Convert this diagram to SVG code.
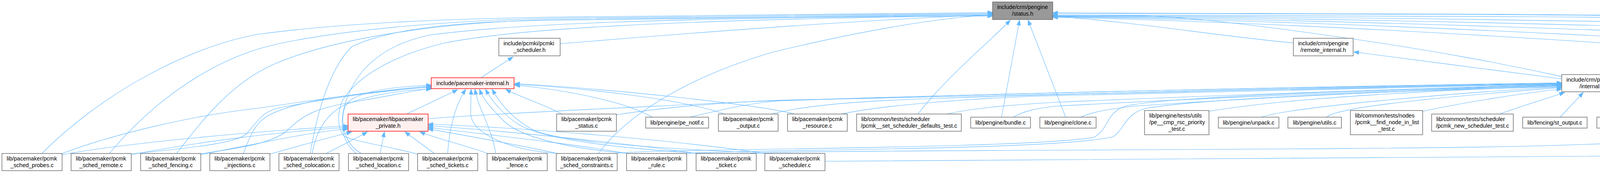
<svg xmlns="http://www.w3.org/2000/svg" width="7872" height="443" viewBox="0 0 7872 443">
<defs>
<marker id="ah" viewBox="0 0 14 11" markerWidth="14" markerHeight="11" refX="13" refY="5.5" orient="auto" markerUnits="userSpaceOnUse"><path d="M0,0.5 L13.5,5.5 L0,10.5 Z" fill="#63B8FF" stroke="#63B8FF" stroke-width="1"/></marker>
</defs>
<style>
.n rect{fill:#ffffff;stroke:#666666;stroke-width:1.4}
.r rect{fill:#FFF0F0;stroke:#FF0000;stroke-width:1.4}
.root rect{fill:#999999;stroke:#666666;stroke-width:1.4}
text{font-family:"Liberation Sans",Arial,Helvetica,sans-serif;font-size:14.5px;fill:#000000}
.m{text-anchor:middle}
#edges path{fill:none;stroke:#63B8FF;stroke-width:1.1;marker-end:url(#ah)}
</style>
<rect x="0" y="0" width="7872" height="443" fill="#ffffff"/>
<g id="edges">
<path d="M1434,112 C1700,90 2200,50 2541,38"/>
<path d="M1231,199 L1313,146"/>
<path d="M3311,110 C3100,90 2900,55 2695,42"/>
<path d="M3998,196 C3900,175 3700,130 3300,77 S2900,45 2695,40"/>
<path d="M3998,202 C3900,190 3600,150 3466,133"/>
<path d="M7523,106 C7480,95 7400,87 7212,82 S6600,63 5940,53 S3800,36 2695,34"/>
<path d="M7717,106 C7650,95 7500,84 7212,77 S6600,62 5940,52 S3800,35 2695,33"/>
<path d="M2112,413 C3500,410 6000,385 7212,362 C7330,356 7420,352 7431,347 C7460,310 7485,290 7477,262 C7465,228 7380,205 7212,198 C6950,195 6750,195 6600,172 C6200,115 4800,48 3960,43 L2695,38"/>
<path d="M7256,292 C7050,240 6800,208 6600,197 S5700,110 5280,88 S3800,45 2695,40"/>
<path d="M7057,292 C6900,250 6750,228 6600,218 S5700,135 5280,110 S3800,50 2695,41"/>
<path d="M6886,300 C6800,265 6700,250 6600,245 S5700,158 5280,133 S3800,55 2695,42"/>
<path d="M6706,300 C6680,280 6650,270 6600,267 S5700,188 5280,163 S3800,60 2695,43"/>
<path d="M6533,300 C6500,265 6460,250 6445,247 S5700,215 5280,192 S3800,70 2695,44"/>
<path d="M107,393 C260,240 480,120 660,88 C900,55 1200,48 1400,44 L2541,32"/>
<path d="M280,393 C400,250 550,150 700,115 C900,70 1200,52 1400,47 L2541,34"/>
<path d="M452,393 C530,290 600,210 700,165 C850,100 1100,60 1400,50 L2541,36"/>
<path d="M794,393 C810,300 840,180 900,120 C1000,70 1200,55 1400,52 L2541,38"/>
<path d="M912,393 C870,360 865,300 896,233 C930,160 1000,110 1100,90 C1300,62 1700,45 2541,41"/>
<path d="M1069,395 C1000,375 900,362 879,347 C860,320 865,270 885,245 C930,185 1020,140 1130,112 C1300,75 1700,50 2541,40"/>
<path d="M1532,393 C1600,300 1750,200 1980,133 C2200,80 2400,45 2541,38"/>
<path d="M2350,292 C2420,200 2530,110 2586,52"/>
<path d="M2564,300 L2610,52"/>
<path d="M2728,300 L2632,52"/>
<path d="M1041,292 L1171,230"/>
<path d="M159,393 C300,340 500,295 660,277 C850,250 1000,228 1104,220"/>
<path d="M337,394 C450,382 600,370 631,343 C660,310 670,285 720,275 C850,250 1000,230 1104,223"/>
<path d="M513,394 C600,380 700,370 740,330 C780,290 820,275 900,262 C1000,245 1060,232 1104,226"/>
<path d="M623,393 C640,350 650,320 680,300 C750,255 950,235 1104,222"/>
<path d="M799,393 C810,330 840,290 880,270 C950,240 1040,230 1104,228"/>
<path d="M925,393 C875,365 870,300 885,270 C905,235 1000,222 1104,218"/>
<path d="M1146,393 C1150,330 1165,270 1192,229"/>
<path d="M1269,393 C1260,330 1225,280 1216,229"/>
<path d="M1430,393 C1300,385 1205,340 1205,290 C1205,260 1206,245 1206,229"/>
<path d="M1610,393 C1450,380 1330,350 1290,310 C1250,270 1235,250 1228,229"/>
<path d="M1790,393 C1600,380 1400,360 1330,320 C1290,295 1260,260 1243,229"/>
<path d="M1965,393 C1700,380 1420,365 1360,330 C1300,295 1275,255 1260,229"/>
<path d="M1438,292 C1400,270 1330,248 1295,229"/>
<path d="M1670,300 C1600,260 1450,230 1318,218"/>
<path d="M1855,292 C1750,255 1500,225 1318,216"/>
<path d="M2035,292 C1950,270 1600,230 1318,214"/>
<path d="M159,396 C300,370 600,340 891,322"/>
<path d="M337,396 C500,365 700,338 891,326"/>
<path d="M513,396 C650,370 780,340 891,330"/>
<path d="M690,395 C760,375 850,350 900,338"/>
<path d="M835,393 C870,375 910,355 940,338"/>
<path d="M973,393 L984,338"/>
<path d="M1112,393 L1037,338"/>
<path d="M1249,393 C1200,375 1120,355 1075,338"/>
<path d="M1426,393 C1350,375 1180,345 1096,330"/>
<path d="M1606,393 C1450,365 1200,340 1096,326"/>
<path d="M1784,393 C1550,360 1250,332 1096,322"/>
<path d="M1960,393 C1700,355 1300,325 1096,318"/>
<path d="M1096,304 C1300,288 1700,272 1980,257 C2800,235 3500,222 3998,214"/>
<path d="M1578,294 C1700,275 1850,262 1980,258 C2700,235 3500,220 3998,212"/>
<path d="M1766,300 C1850,280 1930,262 2000,258 C2800,232 3500,220 3998,213"/>
<path d="M1972,293 C2050,270 2200,258 2400,252 C3000,232 3600,220 3998,214"/>
<path d="M2150,293 C2250,270 2500,250 2700,245 C3200,232 3700,220 3998,215"/>
<path d="M2424,292 C2500,275 2600,268 2700,262 C3200,240 3700,225 3998,216"/>
<path d="M2594,300 C2620,285 2650,278 2700,272 C3200,245 3700,227 3998,217"/>
<path d="M2766,300 C2800,285 2840,280 2900,272 C3300,245 3700,228 3998,219"/>
<path d="M3095,285 C3300,250 3700,230 3998,220"/>
<path d="M3229,300 C3300,275 3700,240 3998,222"/>
<path d="M3397,300 C3420,270 3800,240 3998,224"/>
<path d="M3643,285 C3750,262 3900,238 3998,228"/>
<path d="M3839,292 C3900,270 3960,252 4005,237"/>
<path d="M3994,300 L4053,237"/>
<path d="M4158,300 L4103,237"/>
<path d="M4324,300 C4270,280 4200,260 4152,236"/>
<path d="M4568,300 C4500,280 4300,240 4154,226"/>
<path d="M4774,300 C4700,275 4400,235 4154,223"/>
<path d="M4970,300 C4900,275 4500,232 4154,221"/>
<path d="M5163,300 C5080,275 4600,230 4154,220"/>
<path d="M5339,300 C5250,280 4700,228 4154,219"/>
<path d="M5509,300 C5420,275 4800,226 4154,218"/>
<path d="M5654,292 C5550,270 4900,225 4154,218"/>
<path d="M5863,292 C5750,268 5000,224 4154,217"/>
<path d="M6066,292 C5950,268 5100,224 4154,217"/>
<path d="M6289,292 C6150,268 5200,222 4154,216"/>
<path d="M6535,300 C6400,270 5300,222 4154,216"/>
<path d="M6706,300 C6550,270 5400,222 4154,215"/>
<path d="M6886,300 C6700,270 5500,222 4154,215"/>
<path d="M7057,292 C6850,262 5600,222 4154,214"/>
<path d="M7256,292 C7000,260 5700,220 4154,214"/>
<path d="M1578,393 C1650,380 2600,383 2800,352 C2840,330 2830,290 2880,272 C3000,245 3600,228 3998,218"/>
<path d="M1757,393 C1900,382 2700,386 2850,350 C2880,330 2880,290 2935,277 C3100,250 3600,232 3998,222"/>
<path d="M1920,393 C1980,383 3500,386 3960,373 C4200,366 4440,352 4459,347 C4478,330 4485,315 4480,305 C4475,285 4465,276 4440,270 C4350,245 4250,230 4154,222"/>
</g>
<g id="node-status-h" class="root"><rect x="2541" y="5" width="154" height="45"/><text x="2553" y="23">include/crm/pengine</text><text class="m" x="2618" y="40">/status.h</text></g>
<g id="node-pcmki-scheduler-h" class="n"><rect x="1277" y="98" width="157" height="45"/><text x="1289" y="116">include/pcmki/pcmki</text><text class="m" x="1355.5" y="133">_scheduler.h</text></g>
<g id="node-remote-internal-h" class="n"><rect x="3311" y="98" width="153" height="45"/><text x="3323" y="116">include/crm/pengine</text><text class="m" x="3387.5" y="133">/remote_internal.h</text></g>
<g id="node-lrmd-alerts" class="n"><rect x="7495" y="106" width="161" height="28"/><text class="m" x="7575.5" y="125">lib/lrmd/lrmd_alerts.c</text></g>
<g id="node-proxy-common" class="n"><rect x="7679" y="106" width="187" height="28"/><text class="m" x="7772.5" y="125">lib/lrmd/proxy_common.c</text></g>
<g id="node-pacemaker-internal-h" class="r"><rect x="1104" y="199" width="212" height="28"/><text class="m" x="1210" y="218">include/pacemaker-internal.h</text></g>
<g id="node-pengine-internal-h" class="n"><rect x="3998" y="191" width="154" height="44"/><text x="4010" y="209">include/crm/pengine</text><text class="m" x="4075" y="226">/internal.h</text></g>
<g id="node-libpacemaker-private-h" class="r"><rect x="891" y="292" width="205" height="44"/><text x="903" y="310">lib/pacemaker/libpacemaker</text><text class="m" x="993.5" y="327">_private.h</text></g>
<g id="node-pcmk-status" class="n"><rect x="1425" y="292" width="153" height="44"/><text x="1437" y="310">lib/pacemaker/pcmk</text><text class="m" x="1501.5" y="327">_status.c</text></g>
<g id="node-pe-notif" class="n"><rect x="1653" y="300" width="161" height="28"/><text class="m" x="1733.5" y="319">lib/pengine/pe_notif.c</text></g>
<g id="node-pcmk-output" class="n"><rect x="1839" y="292" width="153" height="44"/><text x="1851" y="310">lib/pacemaker/pcmk</text><text class="m" x="1915.5" y="327">_output.c</text></g>
<g id="node-pcmk-resource" class="n"><rect x="2016" y="292" width="153" height="44"/><text x="2028" y="310">lib/pacemaker/pcmk</text><text class="m" x="2092.5" y="327">_resource.c</text></g>
<g id="node-set-scheduler-defaults-test" class="n"><rect x="2193" y="292" width="268" height="44"/><text x="2205" y="310">lib/common/tests/scheduler</text><text class="m" x="2327" y="327">/pcmk__set_scheduler_defaults_test.c</text></g>
<g id="node-bundle" class="n"><rect x="2485" y="300" width="153" height="28"/><text class="m" x="2561.5" y="319">lib/pengine/bundle.c</text></g>
<g id="node-clone" class="n"><rect x="2662" y="300" width="144" height="28"/><text class="m" x="2734" y="319">lib/pengine/clone.c</text></g>
<g id="node-cmp-rsc-priority-test" class="n"><rect x="2930" y="283" width="165" height="62"/><text x="2942" y="301">lib/pengine/tests/utils</text><text x="2942" y="318">/pe__cmp_rsc_priority</text><text class="m" x="3012.5" y="335">_test.c</text></g>
<g id="node-unpack" class="n"><rect x="3119" y="300" width="155" height="28"/><text class="m" x="3196.5" y="319">lib/pengine/unpack.c</text></g>
<g id="node-utils" class="n"><rect x="3297" y="300" width="137" height="28"/><text class="m" x="3365.5" y="319">lib/pengine/utils.c</text></g>
<g id="node-find-node-in-list-test" class="n"><rect x="3457" y="283" width="185" height="62"/><text x="3469" y="301">lib/common/tests/nodes</text><text x="3469" y="318">/pcmk__find_node_in_list</text><text class="m" x="3549.5" y="335">_test.c</text></g>
<g id="node-new-scheduler-test" class="n"><rect x="3665" y="292" width="209" height="44"/><text x="3677" y="310">lib/common/tests/scheduler</text><text class="m" x="3769.5" y="327">/pcmk_new_scheduler_test.c</text></g>
<g id="node-st-output" class="n"><rect x="3898" y="300" width="165" height="28"/><text class="m" x="3980.5" y="319">lib/fencing/st_output.c</text></g>
<g id="node-complex" class="n"><rect x="4088" y="300" width="164" height="28"/><text class="m" x="4170" y="319">lib/pengine/complex.c</text></g>
<g id="node-failcounts" class="n"><rect x="4275" y="300" width="173" height="28"/><text class="m" x="4361.5" y="319">lib/pengine/failcounts.c</text></g>
<g id="node-pe-actions" class="n"><rect x="4523" y="300" width="179" height="28"/><text class="m" x="4612.5" y="319">lib/pengine/pe_actions.c</text></g>
<g id="node-pe-digest" class="n"><rect x="4725" y="300" width="172" height="28"/><text class="m" x="4811" y="319">lib/pengine/pe_digest.c</text></g>
<g id="node-pe-output" class="n"><rect x="4921" y="300" width="173" height="28"/><text class="m" x="5007.5" y="319">lib/pengine/pe_output.c</text></g>
<g id="node-remote" class="n"><rect x="5117" y="300" width="156" height="28"/><text class="m" x="5195" y="319">lib/pengine/remote.c</text></g>
<g id="node-status" class="n"><rect x="5297" y="300" width="148" height="28"/><text class="m" x="5371" y="319">lib/pengine/status.c</text></g>
<g id="node-tags" class="n"><rect x="5470" y="300" width="136" height="28"/><text class="m" x="5538" y="319">lib/pengine/tags.c</text></g>
<g id="node-find-node-any-test" class="n"><rect x="5631" y="292" width="185" height="44"/><text x="5643" y="310">lib/pengine/tests/status</text><text class="m" x="5723.5" y="327">/pe_find_node_any_test.c</text></g>
<g id="node-find-node-id-test" class="n"><rect x="5840" y="292" width="174" height="44"/><text x="5852" y="310">lib/pengine/tests/status</text><text class="m" x="5927" y="327">/pe_find_node_id_test.c</text></g>
<g id="node-base-name-end-test" class="n"><rect x="6038" y="292" width="197" height="44"/><text x="6050" y="310">lib/pengine/tests/unpack</text><text class="m" x="6136.5" y="327">/pe_base_name_end_test.c</text></g>
<g id="node-cmp-node-name-test" class="n"><rect x="6260" y="292" width="209" height="44"/><text x="6272" y="310">lib/pengine/tests/utils</text><text class="m" x="6364.5" y="327">/pe__cmp_node_name_test.c</text></g>
<g id="node-group" class="n"><rect x="6493" y="300" width="146" height="28"/><text class="m" x="6566" y="319">lib/pengine/group.c</text></g>
<g id="node-native" class="n"><rect x="6663" y="300" width="150" height="28"/><text class="m" x="6738" y="319">lib/pengine/native.c</text></g>
<g id="node-pe-health" class="n"><rect x="6837" y="300" width="173" height="28"/><text class="m" x="6923.5" y="319">lib/pengine/pe_health.c</text></g>
<g id="node-native-find-rsc-test" class="n"><rect x="7034" y="292" width="174" height="44"/><text x="7046" y="310">lib/pengine/tests/native</text><text class="m" x="7121" y="327">/native_find_rsc_test.c</text></g>
<g id="node-base-name-eq-test" class="n"><rect x="7231" y="292" width="190" height="44"/><text x="7243" y="310">lib/pengine/tests/native</text><text class="m" x="7326" y="327">/pe_base_name_eq_test.c</text></g>
<g id="node-sched-probes" class="n"><rect x="5" y="393" width="154" height="44"/><text x="17" y="411">lib/pacemaker/pcmk</text><text class="m" x="82" y="428">_sched_probes.c</text></g>
<g id="node-sched-remote" class="n"><rect x="182" y="393" width="154" height="44"/><text x="194" y="411">lib/pacemaker/pcmk</text><text class="m" x="259" y="428">_sched_remote.c</text></g>
<g id="node-sched-fencing" class="n"><rect x="360" y="393" width="154" height="44"/><text x="372" y="411">lib/pacemaker/pcmk</text><text class="m" x="437" y="428">_sched_fencing.c</text></g>
<g id="node-injections" class="n"><rect x="537" y="393" width="154" height="44"/><text x="549" y="411">lib/pacemaker/pcmk</text><text class="m" x="614" y="428">_injections.c</text></g>
<g id="node-sched-colocation" class="n"><rect x="714" y="393" width="154" height="44"/><text x="726" y="411">lib/pacemaker/pcmk</text><text class="m" x="791" y="428">_sched_colocation.c</text></g>
<g id="node-sched-location" class="n"><rect x="892" y="393" width="154" height="44"/><text x="904" y="411">lib/pacemaker/pcmk</text><text class="m" x="969" y="428">_sched_location.c</text></g>
<g id="node-sched-tickets" class="n"><rect x="1069" y="393" width="154" height="44"/><text x="1081" y="411">lib/pacemaker/pcmk</text><text class="m" x="1146" y="428">_sched_tickets.c</text></g>
<g id="node-fence" class="n"><rect x="1247" y="393" width="154" height="44"/><text x="1259" y="411">lib/pacemaker/pcmk</text><text class="m" x="1324" y="428">_fence.c</text></g>
<g id="node-sched-constraints" class="n"><rect x="1424" y="393" width="156" height="44"/><text x="1436" y="411">lib/pacemaker/pcmk</text><text class="m" x="1502" y="428">_sched_constraints.c</text></g>
<g id="node-rule" class="n"><rect x="1604" y="393" width="154" height="44"/><text x="1616" y="411">lib/pacemaker/pcmk</text><text class="m" x="1681" y="428">_rule.c</text></g>
<g id="node-ticket" class="n"><rect x="1782" y="393" width="154" height="44"/><text x="1794" y="411">lib/pacemaker/pcmk</text><text class="m" x="1859" y="428">_ticket.c</text></g>
<g id="node-scheduler" class="n"><rect x="1958" y="393" width="154" height="44"/><text x="1970" y="411">lib/pacemaker/pcmk</text><text class="m" x="2035" y="428">_scheduler.c</text></g>
</svg>
